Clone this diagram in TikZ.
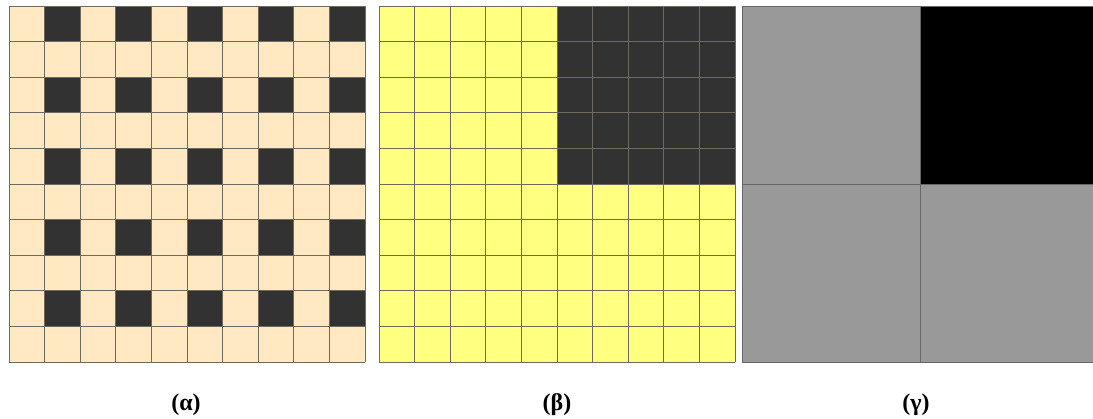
\documentclass[tikz,border=0pt]{standalone}
\usepackage{fontspec}
\setmainfont{Liberation Serif}[BoldFont={Liberation Serif Bold}]
\definecolor{peach}{HTML}{FFE8C2}
\definecolor{darkcell}{HTML}{323232}
\definecolor{lemon}{HTML}{FFFF80}
\definecolor{midgray}{HTML}{999999}
\definecolor{gridline}{HTML}{6E6A5E}
\tikzset{
  cellgrid/.style={draw=gridline, line width=1pt},
  caption/.style={font=\bfseries\fontsize{24}{28}\selectfont, inner sep=0pt}
}
\begin{document}
\begin{tikzpicture}[x=1pt, y=-1pt]
\useasboundingbox (0,0) rectangle (1093,418);
\clip (0,0) rectangle (1093,418);
\fill[white] (0,0) rectangle (1093,418);
\def\cs{35.6}
% left panel: checker of dark cells on odd columns of even rows
\begin{scope}[shift={(9,6)}]
  \fill[peach] (0,0) rectangle (356,356);
  \foreach \r in {0,2,4,6,8} {
    \foreach \c in {1,3,5,7,9} {
      \fill[darkcell] (\c*\cs,\r*\cs) rectangle ({(\c+1)*\cs},{(\r+1)*\cs});
    }
  }
  \foreach \i in {0,...,10} {
    \draw[cellgrid] (\i*\cs,0) -- (\i*\cs,356);
    \draw[cellgrid] (0,\i*\cs) -- (356,\i*\cs);
  }
\end{scope}
% middle panel: dark top-right quarter
\begin{scope}[shift={(379,6)}]
  \fill[lemon] (0,0) rectangle (356,356);
  \fill[darkcell] (178,0) rectangle (356,178);
  \foreach \i in {0,...,10} {
    \draw[cellgrid] (\i*\cs,0) -- (\i*\cs,356);
    \draw[cellgrid] (0,\i*\cs) -- (356,\i*\cs);
  }
\end{scope}
% right panel: 2x2 blocks
\begin{scope}[shift={(742,6)}]
  \fill[midgray] (0,0) rectangle (356,356);
  \fill[black] (178,0) rectangle (356,178);
  \draw[draw=gray!80!black, line width=1pt] (0,0) rectangle (356,356);
  \draw[draw=gray!80!black, line width=1pt] (178,0) -- (178,356);
  \draw[draw=gray!80!black, line width=1pt] (0,178) -- (356,178);
\end{scope}
\node[caption] (capA) at (186,405) {(α)};
\node[caption] (capB) at (557,405) {(β)};
\node[caption] (capC) at (916,405) {(γ)};
\end{tikzpicture}
\end{document}
